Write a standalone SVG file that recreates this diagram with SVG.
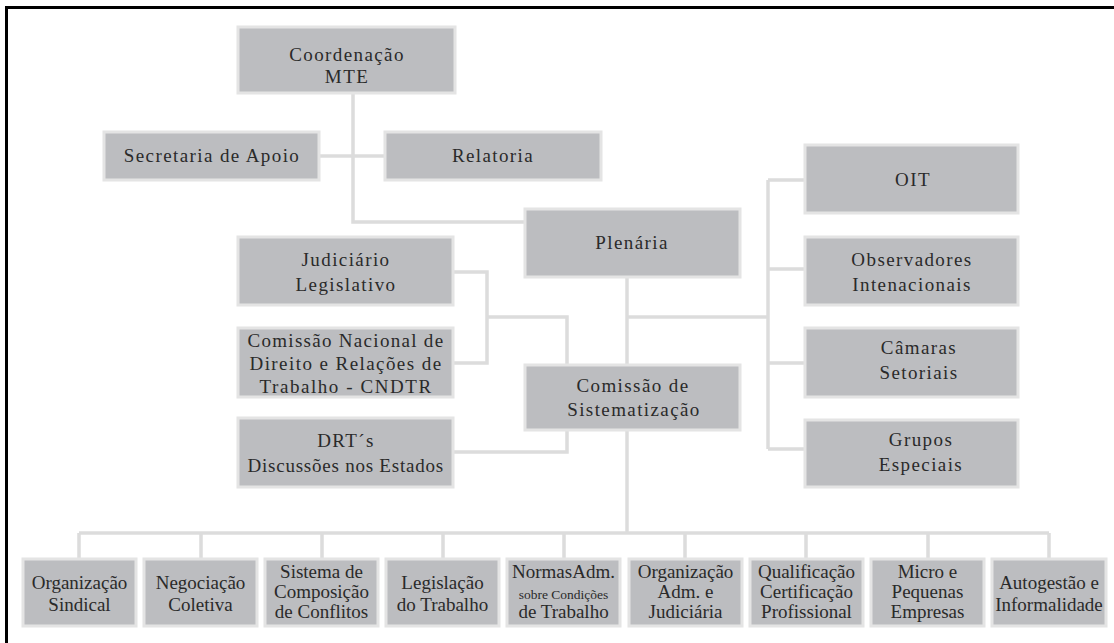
<svg xmlns="http://www.w3.org/2000/svg" width="1114" height="643" viewBox="0 0 1114 643">
<style>
.bx{fill:#bcbdc0;stroke:#e4e4e4;stroke-width:3}
.t{font-family:"Liberation Serif",serif;font-size:19px;fill:#2a2a2a;text-anchor:middle;letter-spacing:1.4px}
.b{font-family:"Liberation Serif",serif;font-size:19px;fill:#2a2a2a;text-anchor:middle}
.s{font-size:13.5px}
.cn{fill:none;stroke:#dcdcdc;stroke-width:3.5}
</style>
<rect width="1114" height="643" fill="#ffffff"/>
<path d="M6.5 643 V7.5 H1114" fill="none" stroke="#000" stroke-width="3"/>
<g id="connectors" class="cn">
<path d="M353 93 V222 H525"/>
<path d="M319 156 H385"/>
<path d="M453 272 H487 V363 H453"/>
<path d="M487 317 H567 V365"/>
<path d="M627 277 V365"/>
<path d="M627 317 H768"/>
<path d="M768 180 V449"/>
<path d="M768 180 H805 M768 269 H805 M768 363 H805 M768 449 H805"/>
<path d="M453 452 H567 V430"/>
<path d="M627 430 V533"/>
<path d="M79 533 H1049"/>
<path d="M79 533 V559 M201 533 V559 M322 533 V559 M443 533 V559 M564 533 V559 M685 533 V559 M806 533 V559 M928 533 V559 M1049 533 V559"/>
</g>
<g id="coordenacao"><rect class="bx" x="238" y="27" width="217" height="66"/><text class="t" x="347" y="61">Coordenação</text><text class="t" x="347" y="83">MTE</text></g>
<g id="secretaria"><rect class="bx" x="104" y="132" width="215" height="48"/><text class="t" x="212" y="162">Secretaria de Apoio</text></g>
<g id="relatoria"><rect class="bx" x="385" y="132" width="216" height="48"/><text class="t" x="493" y="162">Relatoria</text></g>
<g id="plenaria"><rect class="bx" x="525" y="209" width="215" height="68"/><text class="t" x="632" y="249">Plenária</text></g>
<g id="judiciario"><rect class="bx" x="238" y="237" width="215" height="68"/><text class="t" x="346" y="266">Judiciário</text><text class="t" x="346" y="291">Legislativo</text></g>
<g id="cndtr"><rect class="bx" x="238" y="328" width="215" height="69"/><text class="t" x="346" y="347" textLength="197" lengthAdjust="spacing">Comissão Nacional de</text><text class="t" x="346" y="370" textLength="193" lengthAdjust="spacing">Direito e Relações de</text><text class="t" x="346" y="393" textLength="173" lengthAdjust="spacing">Trabalho - CNDTR</text></g>
<g id="drt"><rect class="bx" x="238" y="418" width="215" height="69"/><text class="t" x="346" y="447">DRT´s</text><text class="t" x="346" y="472" textLength="197" lengthAdjust="spacing">Discussões nos Estados</text></g>
<g id="comissao"><rect class="bx" x="525" y="365" width="215" height="65"/><text class="t" x="633" y="392">Comissão de</text><text class="t" x="634" y="416">Sistematização</text></g>
<g id="oit"><rect class="bx" x="805" y="145" width="213" height="68"/><text class="t" x="913" y="186">OIT</text></g>
<g id="observadores"><rect class="bx" x="805" y="237" width="213" height="68"/><text class="t" x="912" y="266">Observadores</text><text class="t" x="912" y="291">Intenacionais</text></g>
<g id="camaras"><rect class="bx" x="805" y="328" width="213" height="69"/><text class="t" x="919" y="354">Câmaras</text><text class="t" x="919" y="379">Setoriais</text></g>
<g id="grupos"><rect class="bx" x="805" y="420" width="213" height="67"/><text class="t" x="921" y="446">Grupos</text><text class="t" x="921" y="471">Especiais</text></g>
<g id="organizacao-sindical"><rect class="bx" x="23" y="559" width="113" height="67"/><text class="b" x="79.5" y="589">Organização</text><text class="b" x="79.5" y="611">Sindical</text></g>
<g id="negociacao"><rect class="bx" x="144" y="559" width="113" height="67"/><text class="b" x="200.5" y="589">Negociação</text><text class="b" x="200.5" y="611">Coletiva</text></g>
<g id="sistema"><rect class="bx" x="265" y="559" width="113" height="67"/><text class="b" x="321.5" y="578">Sistema de</text><text class="b" x="321.5" y="598">Composição</text><text class="b" x="321.5" y="618">de Conflitos</text></g>
<g id="legislacao"><rect class="bx" x="386" y="559" width="113" height="67"/><text class="b" x="442.5" y="589">Legislação</text><text class="b" x="442.5" y="611">do Trabalho</text></g>
<g id="normas"><rect class="bx" x="507" y="559" width="113" height="67"/><text class="b" x="563.5" y="578">NormasAdm.</text><text class="b s" x="563.5" y="599">sobre Condições</text><text class="b" x="563.5" y="618">de Trabalho</text></g>
<g id="organizacao-adm"><rect class="bx" x="629" y="559" width="113" height="67"/><text class="b" x="685.5" y="578">Organização</text><text class="b" x="685.5" y="598">Adm. e</text><text class="b" x="685.5" y="618">Judiciária</text></g>
<g id="qualificacao"><rect class="bx" x="750" y="559" width="113" height="67"/><text class="b" x="806.5" y="578">Qualificação</text><text class="b" x="806.5" y="598">Certificação</text><text class="b" x="806.5" y="618">Profissional</text></g>
<g id="micro"><rect class="bx" x="871" y="559" width="113" height="67"/><text class="b" x="927.5" y="578">Micro e</text><text class="b" x="927.5" y="598">Pequenas</text><text class="b" x="927.5" y="618">Empresas</text></g>
<g id="autogestao"><rect class="bx" x="992" y="559" width="114" height="67"/><text class="b" x="1049" y="589">Autogestão e</text><text class="b" x="1049" y="611">Informalidade</text></g>
</svg>
